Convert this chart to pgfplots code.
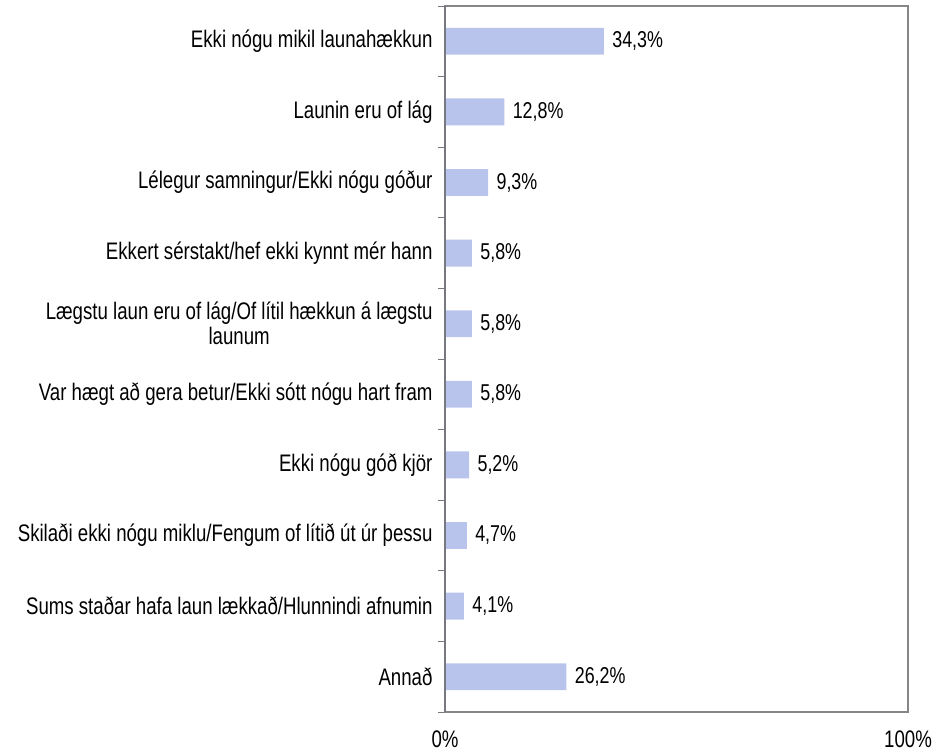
\documentclass[border=0pt]{standalone}
\usepackage{fontspec}
\setmainfont{Liberation Sans}[FakeStretch=0.78]
\usepackage{pgfplots}
\pgfplotsset{compat=1.18}

\definecolor{barfill}{RGB}{184,196,236}
\definecolor{axgray}{RGB}{134,134,134}
\definecolor{axdark}{RGB}{120,120,128}

\begin{document}
\begin{tikzpicture}
\begin{axis}[
    name=ax,
    scale only axis,
    width=463bp, height=706bp,
    xbar,
    xmin=0, xmax=100,
    ymin=-0.5, ymax=9.5,
    y dir=reverse,
    bar width=0.38,
    axis line style={axgray, line width=1.2pt},
    font=\fontsize{24}{25}\selectfont,
    xtick={0,100},
    xticklabels={0\%,100\%},
    xticklabel style={yshift=-15bp},
    ytick={0,...,9},
    yticklabels={
        Ekki nógu mikil launahækkun,
        Launin eru of lág,
        Lélegur samningur/Ekki nógu góður,
        Ekkert sérstakt/hef ekki kynnt mér hann,
        {Lægstu laun eru of lág/Of lítil hækkun á lægstu\\launum},
        Var hægt að gera betur/Ekki sótt nógu hart fram,
        Ekki nógu góð kjör,
        Skilaði ekki nógu miklu/Fengum of lítið út úr þessu,
        Sums staðar hafa laun lækkað/Hlunnindi afnumin,
        Annað},
    yticklabel style={align=center, xshift=-9bp},
    minor ytick={-0.5,0.5,...,9.5},
    major tick length=0pt,
    minor tick length=7bp,
    tick align=outside,
    ytick pos=left,
    xtick pos=bottom,
    tick style={axdark, line width=1pt},
    point meta=x,
    nodes near coords={\pgfmathprintnumber[fixed,fixed zerofill,precision=1,use comma,assume math mode=true]{\pgfplotspointmeta}\%},
    nodes near coords style={font=\fontsize{23}{25}\selectfont, black, xshift=5bp},
]
\addplot[fill=barfill, draw=none] coordinates {
    (34.3,0) (12.8,1) (9.3,2) (5.8,3) (5.8,4)
    (5.8,5) (5.2,6) (4.7,7) (4.1,8) (26.2,9)
};
\end{axis}
\draw[axdark, line width=1.2pt] (ax.south west) -- (ax.north west);
\path (ax.south west) ++(-445bp,-39bp);
\path (ax.north east) ++(37bp,6bp);
\end{tikzpicture}
\end{document}
